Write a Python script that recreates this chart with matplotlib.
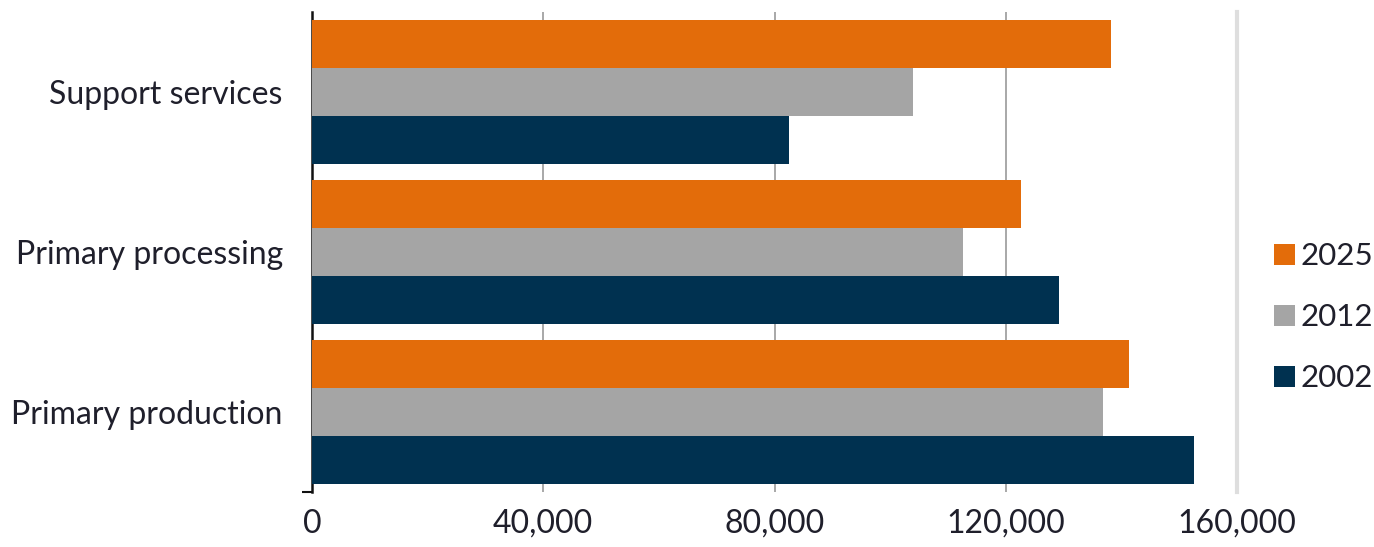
import numpy as np
import matplotlib
matplotlib.use('Agg')
import matplotlib.pyplot as plt
from matplotlib.patches import Patch

# categories listed bottom to top
categories = ['Primary production', 'Primary processing', 'Support services']
years = ['2025', '2012', '2002']
values = {
    '2025': [141300, 122700, 138200],
    '2012': [136900, 112600, 104000],
    '2002': [152600, 129200, 82500],
}
colors = {'2025': '#E36C0A', '2012': '#A5A5A5', '2002': '#003150'}
xticks = [0, 40000, 80000, 120000, 160000]
xticklabels = ['0', '40,000', '80,000', '120,000', '160,000']

plt.rcParams['font.family'] = ['Lato', 'DejaVu Sans']
txt = '#1f1f2b'

fig = plt.figure(figsize=(13.74, 5.47), dpi=100)
ax = fig.add_axes([0.2271, 0.1005, 0.9003 - 0.2271, 0.978 - 0.1005])

y = np.arange(len(categories))
h = 0.3
offsets = {'2025': h, '2012': 0, '2002': -h}
for yr in years:
    ax.barh(y + offsets[yr], values[yr], height=h, color=colors[yr], zorder=3)

ax.set_xlim(0, 160000)
ax.set_ylim(-0.5, 2.5)
ax.set_xticks(xticks)
ax.set_xticklabels(xticklabels, fontsize=23, color=txt)
ax.tick_params(axis='x', length=0, pad=12)
ax.set_yticks(y)
ax.set_yticklabels(categories, fontsize=23, color=txt)
ax.tick_params(axis='y', length=0, pad=21)
ax.set_yticks([-0.5], minor=True)
ax.tick_params(axis='y', which='minor', length=7, width=1.5, color='#111111')

ax.grid(axis='x', color='#9a9a9a', linewidth=1.2, zorder=0)
ax.set_axisbelow(True)
for s in ['top', 'bottom']:
    ax.spines[s].set_visible(False)
ax.spines['left'].set_color('#111111')
ax.spines['left'].set_linewidth(1.8)
ax.spines['right'].set_color('#dedede')
ax.spines['right'].set_linewidth(3)

handles = [Patch(facecolor=colors[yr], label=yr) for yr in years]
fig.legend(handles=handles, loc='center left', bbox_to_anchor=(0.907, 0.42),
           frameon=False, fontsize=22.5, handlelength=0.65, handleheight=0.65,
           handletextpad=0.2, labelspacing=1.05, labelcolor=txt)

fig.savefig('out.png', dpi=100)
